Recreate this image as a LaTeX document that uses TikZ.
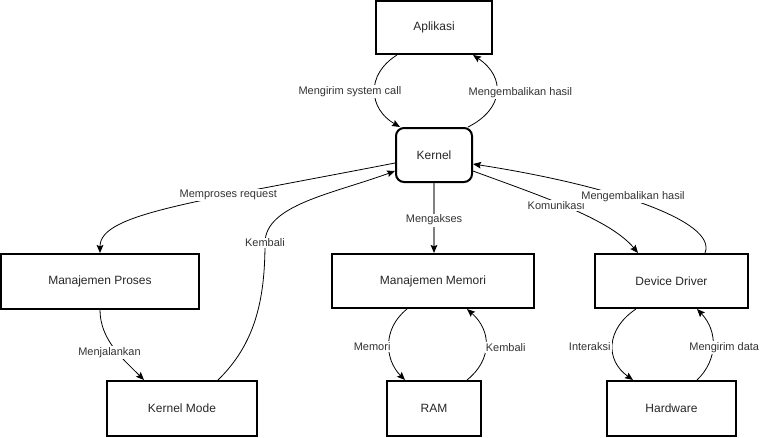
\documentclass[tikz,border=0pt]{standalone}
\usepackage{fontspec}
\setmainfont{Liberation Sans}
\usetikzlibrary{arrows.meta}

\begin{document}
\begin{tikzpicture}[x=0.75pt,y=-0.75pt,
	box/.style={draw,line width=1.5pt,text=black!85,font=\fontsize{9}{11}\selectfont,inner sep=0pt},
	lbl/.style={fill=white,text=black!80,font=\fontsize{8.25}{10}\selectfont,inner sep=1pt},
	con/.style={line width=0.6pt,-{Stealth[length=6pt,width=5pt,inset=1pt,color=black]}}
	]
	\def\px{0.75pt}
	\useasboundingbox (0,0) rectangle (761,437);
	% boxes
	\node[box,minimum width=116*\px,minimum height=53*\px] (apl) at (434,27.5) {Aplikasi};
	\node[box,rounded corners=6pt,minimum width=76*\px,minimum height=54*\px] (ker) at (434,155) {Kernel};
	\node[box,minimum width=198*\px,minimum height=55*\px] (mp) at (100,281.5) {Manajemen Proses};
	\node[box,minimum width=202*\px,minimum height=54*\px] (mm) at (433,281) {Manajemen Memori};
	\node[box,minimum width=153*\px,minimum height=54*\px] (dd) at (671.5,281) {Device Driver};
	\node[box,minimum width=150*\px,minimum height=55*\px] (km) at (182,408.5) {Kernel Mode};
	\node[box,minimum width=94*\px,minimum height=55*\px] (ram) at (434,408.5) {RAM};
	\node[box,minimum width=129*\px,minimum height=55*\px] (hw) at (671.5,408.5) {Hardware};
	% connectors
	\draw[con] ([xshift=-37*\px]apl.south) .. controls +(-32,20) and +(-31,-18) .. ([xshift=-34*\px]ker.north)
		node[lbl,pos=.5,xshift=-25*\px] {Mengirim system call};
	\draw[con] ([xshift=34*\px]ker.north) .. controls +(36,-18) and +(33,22) .. ([xshift=39*\px]apl.south)
		node[lbl,pos=.5,xshift=24*\px] {Mengembalikan hasil};
	\draw[con] ([yshift=-8*\px]ker.west) .. controls +(-206,40) and +(0,-39) .. (mp.north)
		node[lbl,pos=.33] {Memproses request};
	\draw[con] ([xshift=36*\px]km.north) .. controls +(37,-36) and +(0,57) .. (265,243) node[lbl] {Kembali}
		.. controls +(0,-38) and +(-63,23) .. ([yshift=-16*\px]ker.west);
	\draw[con] (mp.south) .. controls +(0,30) and +(-20,-20) .. ([xshift=-38*\px]km.north)
		node[lbl,pos=.5,xshift=-5*\px,yshift=-4*\px] {Menjalankan};
	\draw[con,draw=gray,line width=0.9pt] (ker.south) -- (ker.south |- mm.north)
		node[lbl,pos=.53] {Mengakses};
	\draw[con] ([yshift=-16*\px]ker.east) .. controls +(68,25) and +(-28,-34) .. ([xshift=-33.5*\px]dd.north)
		node[lbl,pos=.42,yshift=-3*\px] {Komunikasi};
	\draw[con] ([xshift=33.5*\px]dd.north) .. controls +(13,-32) and +(136,21) .. ([yshift=-9*\px]ker.east)
		node[lbl,pos=.53,xshift=-4*\px,yshift=5*\px] {Mengembalikan hasil};
	\draw[con] ([xshift=-26*\px]mm.south) .. controls +(-25,20) and +(-20,-20) .. ([xshift=-29*\px]ram.north)
		node[lbl,pos=.5,xshift=-17*\px,yshift=-2*\px] {Memori};
	\draw[con] ([xshift=33*\px]ram.north) .. controls +(25,-20) and +(25,22) .. ([xshift=34*\px]mm.south)
		node[lbl,pos=.5,xshift=20*\px,yshift=-2*\px] {Kembali};
	\draw[con] ([xshift=-35.5*\px]dd.south) .. controls +(-30,20) and +(-28,-20) .. ([xshift=-38.5*\px]hw.north)
		node[lbl,pos=.5,xshift=-23*\px,yshift=-2*\px] {Interaksi};
	\draw[con] ([xshift=25.5*\px]hw.north) .. controls +(21,-20) and +(21,22) .. ([xshift=25.5*\px]dd.south)
		node[lbl,pos=.5,xshift=11.5*\px,yshift=-2*\px] {Mengirim data};
\end{tikzpicture}
\end{document}
